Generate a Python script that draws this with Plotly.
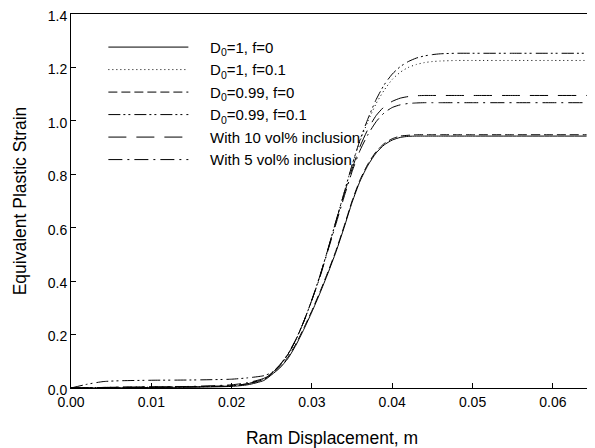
import plotly.graph_objects as go

# ram displacement (m)
x_base = [0, 0.002, 0.004, 0.006, 0.01, 0.015, 0.02, 0.022, 0.024, 0.025, 0.026, 0.027,
          0.028, 0.029, 0.030, 0.031, 0.032, 0.033, 0.034, 0.035, 0.036, 0.037, 0.038, 0.039,
          0.040, 0.041, 0.042, 0.043, 0.044, 0.045, 0.046, 0.048, 0.050, 0.055, 0.060, 0.0642]
x_long = x_base + [0.0648]

# equivalent plastic strain
d1_f0 = [0, 0, 0.001, 0.001, 0.002, 0.003, 0.006, 0.012, 0.028, 0.05, 0.075, 0.11,
         0.16, 0.22, 0.285, 0.355, 0.43, 0.51, 0.60, 0.695, 0.775, 0.835, 0.88, 0.91,
         0.928, 0.938, 0.942, 0.943, 0.943, 0.943, 0.943, 0.943, 0.943, 0.943, 0.943, 0.943]
d1_f01 = [0, 0.001, 0.002, 0.002, 0.003, 0.004, 0.008, 0.016, 0.034, 0.055, 0.085, 0.125,
          0.18, 0.25, 0.33, 0.42, 0.52, 0.625, 0.73, 0.835, 0.925, 1.0, 1.065, 1.115,
          1.155, 1.182, 1.2, 1.211, 1.218, 1.222, 1.224, 1.226, 1.226, 1.226, 1.226, 1.226, 1.226]
d099_f0 = [0, 0.001, 0.002, 0.003, 0.004, 0.005, 0.009, 0.016, 0.032, 0.053, 0.08, 0.115,
           0.165, 0.225, 0.29, 0.36, 0.435, 0.515, 0.605, 0.70, 0.78, 0.84, 0.885, 0.915,
           0.933, 0.943, 0.946, 0.948, 0.948, 0.948, 0.948, 0.948, 0.948, 0.948, 0.948, 0.948]
d099_f01 = [0, 0.014, 0.024, 0.027, 0.029, 0.030, 0.033, 0.038, 0.046, 0.058, 0.087, 0.127,
            0.182, 0.25, 0.33, 0.42, 0.52, 0.625, 0.73, 0.835, 0.93, 1.01, 1.08, 1.135,
            1.175, 1.203, 1.222, 1.235, 1.243, 1.248, 1.251, 1.253, 1.253, 1.253, 1.253, 1.253, 1.253]
incl_10 = [0, 0.001, 0.002, 0.002, 0.003, 0.004, 0.008, 0.016, 0.034, 0.055, 0.085, 0.125,
           0.18, 0.25, 0.33, 0.42, 0.52, 0.625, 0.725, 0.82, 0.905, 0.97, 1.02, 1.053,
           1.073, 1.085, 1.091, 1.094, 1.095, 1.095, 1.095, 1.095, 1.095, 1.095, 1.095, 1.095, 1.095]
incl_5 = [0, 0.001, 0.002, 0.003, 0.004, 0.006, 0.012, 0.02, 0.036, 0.056, 0.085, 0.125,
          0.18, 0.25, 0.33, 0.415, 0.515, 0.615, 0.715, 0.81, 0.89, 0.95, 0.997, 1.03,
          1.05, 1.06, 1.065, 1.067, 1.068, 1.068, 1.068, 1.068, 1.068, 1.068, 1.068, 1.068, 1.068]

gap = "\u00a0" * 4
series = [
    ("D<sub>0</sub>=1, f=0", x_base, d1_f0, "solid"),
    ("D<sub>0</sub>=1, f=0.1", x_long, d1_f01, "1px,3px"),
    ("D<sub>0</sub>=0.99, f=0", x_base, d099_f0, "9px,4px"),
    ("D<sub>0</sub>=0.99, f=0.1", x_long, d099_f01, "12px,3px,2px,3px,2px,4px"),
    ("With 10 vol% inclusion", x_long, incl_10, "18px,10px"),
    ("With 5 vol% inclusion", x_long, incl_5, "14px,5px,2px,5px"),
]

fig = go.Figure()
for name, xs, ys, dash in series:
    fig.add_trace(go.Scatter(x=xs, y=ys, mode="lines", name=gap + name,
                             line=dict(color="black", width=1, dash=dash, shape="spline", smoothing=0.6)))

axis_common = dict(showline=True, linecolor="black", linewidth=1, mirror=True, ticks="inside",
                   ticklen=5, tickcolor="black", showgrid=False, zeroline=False, automargin=False,
                   ticklabeloverflow="allow", tickfont=dict(size=14, color="black"))
fig.update_xaxes(range=[0, 0.065], dtick=0.01, tickformat=".2f", ticklabelstandoff=1,
                 title=dict(text="Ram Displacement, m", font=dict(size=17.5, color="black"), standoff=25),
                 **axis_common)
fig.update_yaxes(range=[0, 1.4], dtick=0.2, tickformat=".1f", ticklabelshift=2,
                 title=dict(text="Equivalent Plastic Strain", font=dict(size=17.5, color="black"), standoff=16),
                 **axis_common)

# the page body adds an 8px margin, so the figure is sized to fit inside the window
fig.update_layout(
    width=587, height=440,
    margin=dict(l=63, r=2, t=6, b=60),
    plot_bgcolor="white", paper_bgcolor="white",
    font=dict(family="Liberation Sans, Arial, sans-serif", color="black"),
    legend=dict(x=0.062, y=0.955, xanchor="left", yanchor="top", bgcolor="rgba(0,0,0,0)",
                font=dict(size=15), itemwidth=80, tracegroupgap=0),
)
fig.write_html("out.html")
